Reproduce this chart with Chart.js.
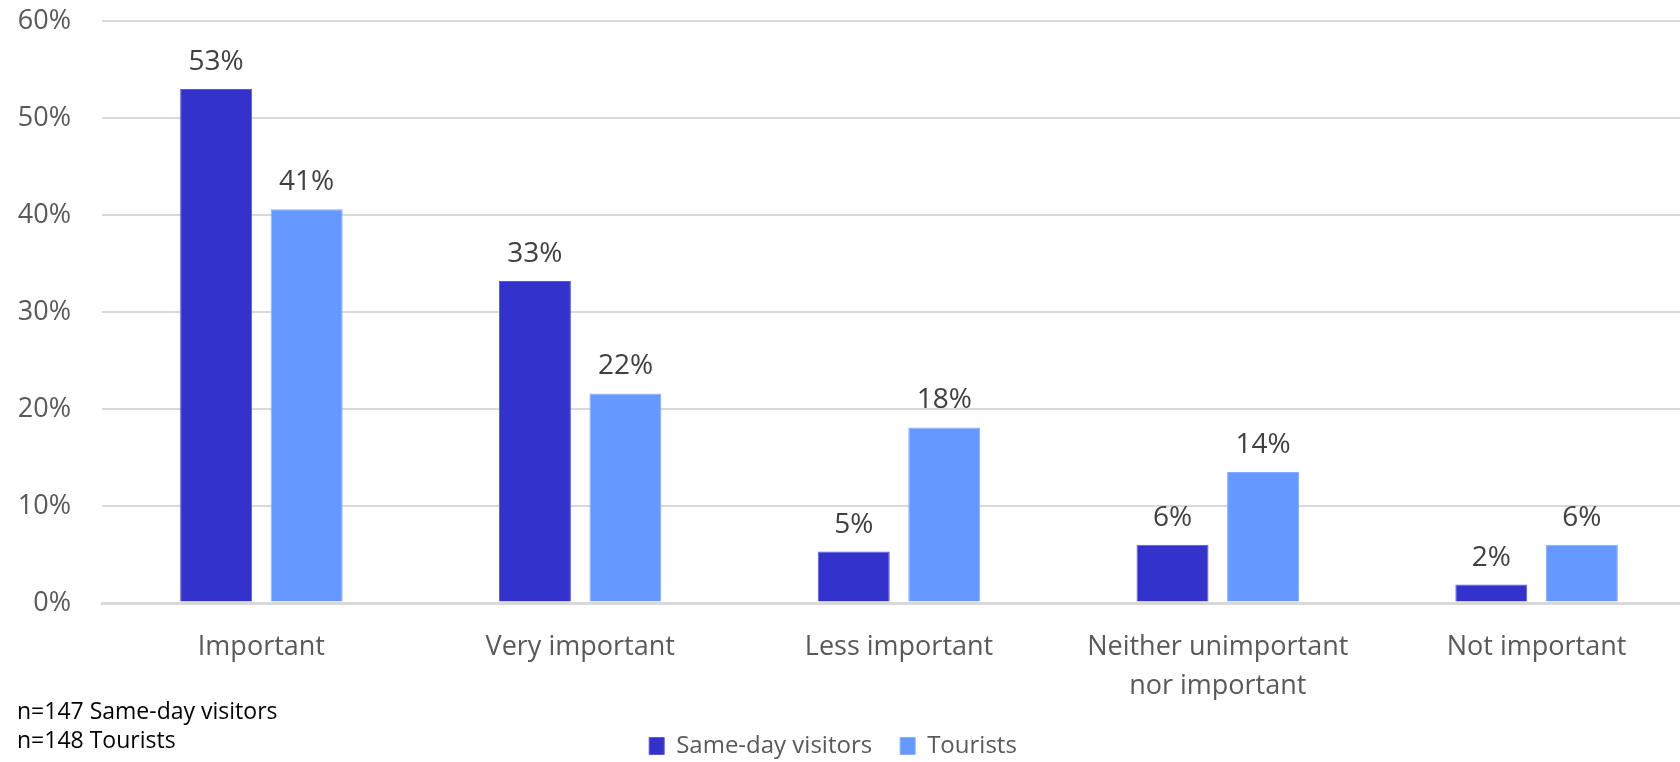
<!DOCTYPE html>
<html>
<head>
<meta charset="utf-8">
<script src="https://cdn.jsdelivr.net/npm/chart.js@4"></script>
<style>
  html, body { margin: 0; padding: 0; background: #fff; }
  #wrap { position: relative; width: 1680px; height: 762px; overflow: hidden; }
  .note { position: absolute; left: 17px; font: 23px "Open Sans", sans-serif; color: #000; line-height: 29px; }
</style>
</head>
<body>
<div id="wrap">
  <canvas id="chart" width="1680" height="762"></canvas>
  <div class="note" style="top: 696px;">n=147 Same-day visitors<br>n=148 Tourists</div>
</div>
<script>
const categories = ['Important', 'Very important', 'Less important', ['Neither unimportant', 'nor important'], 'Not important']
const sameDay = [53.0, 33.2, 5.3, 6.0, 1.9]
const tourists = [40.6, 21.6, 18.1, 13.5, 6.0]
const yTicks = [0, 10, 20, 30, 40, 50, 60]

// value labels above each bar
const barLabels = {
  id: 'barLabels',
  afterDatasetsDraw(chart) {
    const ctx = chart.ctx
    ctx.save()
    ctx.font = '28px "Open Sans", sans-serif'
    ctx.fillStyle = '#404040'
    ctx.textAlign = 'center'
    ctx.textBaseline = 'bottom'
    chart.data.datasets.forEach((ds, i) => {
      chart.getDatasetMeta(i).data.forEach((bar, j) => {
        ctx.fillText(Math.round(ds.data[j]) + '%', bar.x, bar.y - 13)
      })
    })
    ctx.restore()
  }
}

// the category axis runs a little past the right edge; legend sits a bit lower and left
const tweakLayout = {
  id: 'tweakLayout',
  afterLayout(chart) {
    const x = chart.scales.x
    x.right += 16
    x.width = x.right - x.left
    x.configure()
    const lg = chart.legend
    lg.top += 6
    lg.bottom += 6
    lg.left -= 7
    lg.right -= 7
  }
}

new Chart(document.getElementById('chart'), {
  type: 'bar',
  data: {
    labels: categories,
    datasets: [
      { label: 'Same-day visitors', data: sameDay, backgroundColor: '#3333cc', borderColor: '#5a5ad6', borderWidth: 1 },
      { label: 'Tourists', data: tourists, backgroundColor: '#6699ff', borderColor: '#86adff', borderWidth: 1 }
    ]
  },
  options: {
    responsive: false,
    animation: false,
    categoryPercentage: 0.568,
    barPercentage: 0.795,
    layout: { padding: { top: 21, right: 0, left: 0, bottom: 0 } },
    plugins: {
      legend: {
        position: 'bottom',
        labels: {
          boxWidth: 15,
          boxHeight: 17,
          padding: 28,
          color: '#595959',
          font: { family: 'Open Sans', size: 24 }
        }
      },
      tooltip: { enabled: false }
    },
    scales: {
      x: {
        grid: { display: false },
        border: { color: '#d9d9d9', width: 3 },
        ticks: {
          color: '#595959',
          font: { family: 'Open Sans', size: 27, lineHeight: 1.45 },
          padding: 17,
          maxRotation: 0
        },
        afterFit(scale) { scale.height = 97 }
      },
      y: {
        min: 0,
        max: 60,
        border: { display: false },
        grid: {
          color: '#d9d9d9',
          lineWidth: ctx => ctx.tick.value === 0 ? 3 : 2,
          drawTicks: true,
          tickLength: 31,
          tickColor: 'rgba(0,0,0,0)'
        },
        afterBuildTicks(scale) { scale.ticks = yTicks.map(v => ({ value: v })) },
        ticks: {
          color: '#595959',
          font: { family: 'Open Sans', size: 27 },
          padding: 0,
          callback: v => v + '%'
        },
        afterFit(scale) { scale.width = 102 }
      }
    }
  },
  plugins: [barLabels, tweakLayout]
})
</script>
</body>
</html>
